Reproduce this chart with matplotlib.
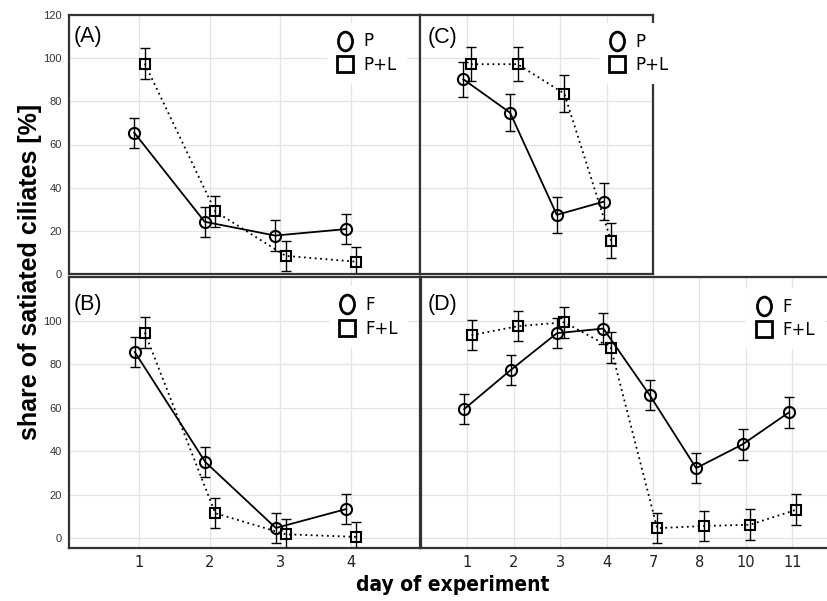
import matplotlib
matplotlib.use('Agg')
import matplotlib.pyplot as plt
from matplotlib.lines import Line2D
from matplotlib.path import Path
from matplotlib.transforms import Affine2D
import numpy as np

# ---------------- data ----------------
days_AB = ['1', '2', '3', '4']
days_CD = ['1', '2', '3', '4', '7', '8', '10', '11']

A_P = [65.5, 24.2, 17.8, 20.8]
A_P_err = [7, 7, 7, 7]
A_PL = [97.5, 29.0, 8.4, 5.7]
A_PL_err = [7, 7, 7, 7]

C_P = [90.2, 74.7, 27.4, 33.5]
C_P_err = [8, 8.5, 8.4, 8.5]
C_PL = [97.2, 97.2, 83.6, 15.5]
C_PL_err = [8, 8, 8.5, 8]

B_F = [85.5, 35.0, 4.7, 13.4]
B_F_err = [7, 7, 7, 7]
B_FL = [94.5, 11.5, 1.8, 0.6]
B_FL_err = [7, 7, 7, 7]

D_F = [59.3, 77.2, 94.2, 96.3, 65.7, 32.2, 43.1, 57.8]
D_F_err = [7, 7, 7, 7, 7, 7, 7, 7]
D_FL = [93.3, 97.4, 99.2, 87.6, 4.6, 5.6, 6.2, 13.1]
D_FL_err = [7, 7, 7, 7, 7, 7, 7, 7]

yticks = [0, 20, 40, 60, 80, 100, 120]

# ---------------- figure ----------------
W, H = 827, 601
fig = plt.figure(figsize=(W / 100, H / 100), dpi=100)


def rect(l, t, r, b):
    return [l / W, 1 - b / H, (r - l) / W, (b - t) / H]


axA = fig.add_axes(rect(69, 15, 420, 274))
axC = fig.add_axes(rect(420, 15, 653, 274))
axB = fig.add_axes(rect(69, 277, 420, 548))
axD = fig.add_axes(rect(421, 277, 827, 548))

SPINE = '#333333'
GRID = '#e4e4e4'


def style(ax, ncat, xmax, ylo, show_y, show_x, xlabels, ylabels_max):
    ax.set_xlim(0, xmax)
    ax.set_ylim(ylo, 120)
    ax.set_xticks(np.arange(1, ncat + 1))
    ax.set_yticks(yticks)
    ax.grid(True, color=GRID, lw=0.9)
    ax.set_axisbelow(True)
    for s in ax.spines.values():
        s.set_color(SPINE)
        s.set_linewidth(1.6)
    ax.tick_params(length=0)
    if show_y:
        ax.set_yticklabels([str(v) if v <= ylabels_max else '' for v in yticks],
                           fontsize=8, color='#333333', family='Liberation Sans')
        ax.tick_params(axis='y', pad=5)
    else:
        ax.set_yticklabels([])
    if show_x:
        ax.set_xticklabels(xlabels, fontsize=10.5, color='#222222', family='DejaVu Sans')
        ax.tick_params(axis='x', pad=5)
    else:
        ax.set_xticklabels([])


style(axA, 4, 4.98, 0, True, False, days_AB, 120)
style(axC, 4, 4.99, 0, False, False, days_AB, 120)
style(axB, 4, 4.98, -4.5, True, True, days_AB, 100)
style(axD, 8, 8.75, -4.5, False, True, days_CD, 100)
axD.spines['right'].set_visible(False)


def draw(ax, y1, e1, y2, e2, off1, off2):
    x = np.arange(1, len(y1) + 1)
    ax.errorbar(x + off1, y1, yerr=e1, fmt='none', ecolor='black', elinewidth=1.0,
                capsize=3.6, capthick=1.0, zorder=3)
    ax.errorbar(x + off2, y2, yerr=e2, fmt='none', ecolor='black', elinewidth=1.0,
                capsize=3.6, capthick=1.0, zorder=3)
    ax.plot(x + off1, y1, color='black', lw=1.3, marker='o', ms=8, mfc='none',
            mec='black', mew=1.5, zorder=4)
    ax.plot(x + off2, y2, color='black', lw=1.3, ls=(0, (1, 2)), marker='s', ms=7.5,
            mfc='none', mec='black', mew=1.5, zorder=4)


draw(axA, A_P, A_P_err, A_PL, A_PL_err, -0.075, 0.075)
draw(axC, C_P, C_P_err, C_PL, C_PL_err, -0.07, 0.09)
draw(axB, B_F, B_F_err, B_FL, B_FL_err, -0.066, 0.075)
draw(axD, D_F, D_F_err, D_FL, D_FL_err, -0.07, 0.09)

# ---------------- legends ----------------
ell = Path.unit_circle().transformed(Affine2D().scale(0.75, 1.0))
FS = 12
fs_px = FS * 100 / 72


def legend(ax, labels, mx, my):
    h1 = Line2D([], [], ls='none', marker=ell, ms=13.5, mfc='none', mec='black', mew=2.0)
    h2 = Line2D([], [], ls='none', marker='s', ms=11, mfc='none', mec='black', mew=2.0)
    hl, bp = 1.0, 0.6
    left = mx - hl * fs_px / 2 - bp * fs_px
    top = my - 9.8 - bp * fs_px
    leg = ax.legend([h1, h2], labels, loc='upper left',
                    bbox_to_anchor=(left / W, 1 - top / H), bbox_transform=fig.transFigure,
                    borderaxespad=0, borderpad=bp, handlelength=hl, handletextpad=0.6,
                    labelspacing=0.32, frameon=True, fancybox=False, framealpha=1,
                    facecolor='white', edgecolor='none',
                    prop={'family': 'DejaVu Sans', 'size': FS})
    leg.set_zorder(10)
    return leg


legend(axA, ['P', 'P+L'], 345, 42.3)
legend(axC, ['P', 'P+L'], 617, 42.7)
legend(axB, ['F', 'F+L'], 347, 306)
legend(axD, ['F', 'F+L'], 764, 307.7)

# ---------------- panel labels ----------------
for ax, lab, dx, dy in [(axA, '(A)', 5, 26.7), (axC, '(C)', 8, 28),
                        (axB, '(B)', 5, 33), (axD, '(D)', 7, 33)]:
    ax.annotate(lab, xy=(0, 1), xycoords='axes fraction',
                xytext=(dx * 0.72, -dy * 0.72), textcoords='offset points',
                ha='left', va='baseline', fontsize=15.5, family='Liberation Sans',
                zorder=11)

# ---------------- axis labels ----------------
fig.text(30 / W, 1 - 272 / H, 'share of satiated ciliates [%]', rotation=90,
         ha='center', va='center', fontsize=18, fontweight='bold',
         family='Liberation Sans')
fig.text(453 / W, 1 - 585 / H, 'day of experiment', ha='center', va='center',
         fontsize=15, fontweight='bold',
         family=['DejaVu Sans Condensed', 'Liberation Sans Narrow', 'DejaVu Sans'],
         fontstretch='condensed')

fig.savefig('out.png', dpi=100)
